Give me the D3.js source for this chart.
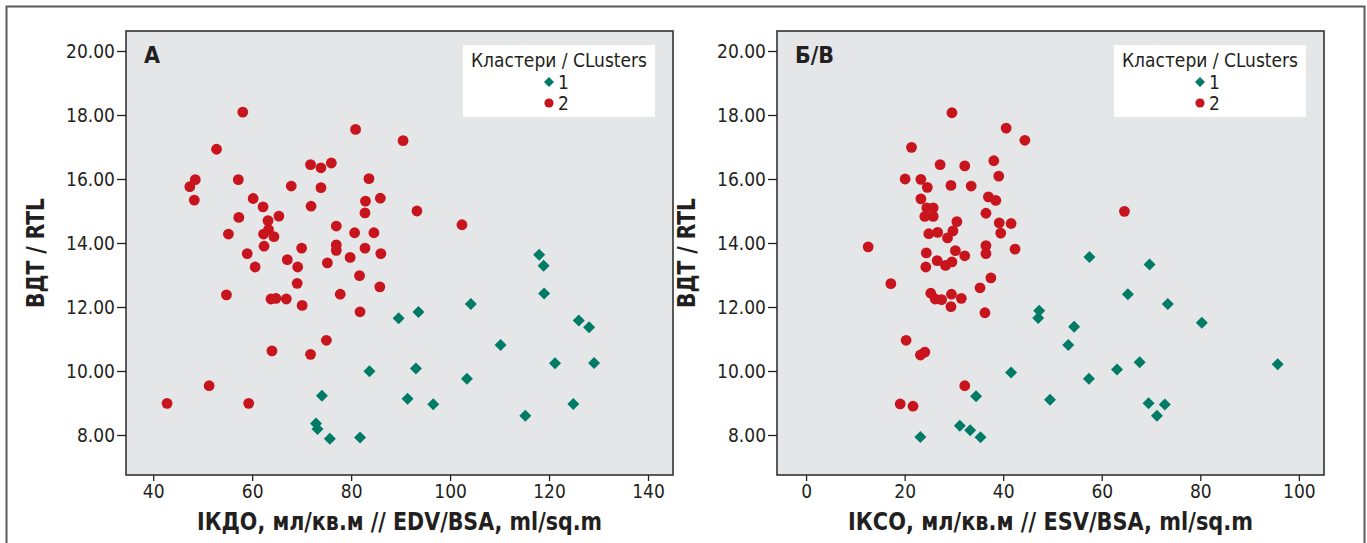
<!DOCTYPE html>
<html>
<head>
<meta charset="utf-8">
<script src="https://cdn.jsdelivr.net/npm/d3@7"></script>
<style>
  body { margin: 0; background: #fff; }
  svg { display: block; }
  .tick text { font-family: "Liberation Sans Narrow", "DejaVu Sans Condensed", sans-serif; font-size: 19px; fill: #231f20; }
  .tick line { stroke: #231f20; stroke-width: 1.3; }
</style>
</head>
<body>
<div id="chart"></div>
<script>
// Cluster 1 (diamonds) and cluster 2 (circles), [index, RTL]
const edvCluster1 = [
  [89.6, 11.65], [93.6, 11.84], [104.2, 12.09], [118.0, 13.63], [118.9, 13.29], [119.0, 12.42],
  [126.0, 11.58], [128.1, 11.37], [110.2, 10.81], [121.2, 10.24], [129.1, 10.25], [93.1, 10.08],
  [103.4, 9.76], [91.4, 9.13], [96.6, 8.96], [124.9, 8.97], [115.2, 8.60], [83.7, 9.99],
  [74.1, 9.23], [72.9, 8.36], [73.2, 8.19], [75.7, 7.88], [81.8, 7.92]
];
const edvCluster2 = [
  [58.1, 18.09], [80.9, 17.55], [90.5, 17.2], [52.8, 16.93], [71.8, 16.45], [73.9, 16.35],
  [76.0, 16.5], [48.5, 15.98], [47.4, 15.76], [48.3, 15.34], [57.2, 15.98], [67.9, 15.78],
  [73.9, 15.73], [83.6, 16.01], [60.2, 15.39], [62.2, 15.13], [71.9, 15.15], [82.9, 15.31],
  [85.9, 15.4], [82.8, 14.94], [57.3, 14.8], [63.2, 14.7], [65.4, 14.84], [55.2, 14.28],
  [62.3, 14.28], [63.3, 14.42], [64.4, 14.2], [77.0, 14.53], [80.7, 14.32], [84.6, 14.32],
  [62.4, 13.9], [70.0, 13.84], [77.0, 13.94], [77.0, 13.77], [82.8, 13.84], [86.0, 13.67],
  [79.8, 13.55], [59.0, 13.67], [67.1, 13.48], [69.2, 13.25], [75.2, 13.38], [60.6, 13.25],
  [81.7, 12.98], [69.1, 12.74], [85.8, 12.63], [54.8, 12.38], [63.8, 12.25], [64.8, 12.27],
  [66.9, 12.25], [70.1, 12.05], [77.8, 12.4], [81.8, 11.85], [75.0, 10.96], [64.0, 10.63],
  [71.8, 10.52], [51.3, 9.54], [42.8, 8.99], [59.3, 8.99], [102.4, 14.57], [93.3, 15.0]
];
const esvCluster1 = [
  [47.3, 11.88], [47.1, 11.66], [41.6, 9.95], [49.5, 9.1], [34.5, 9.21], [31.2, 8.29],
  [33.3, 8.15], [35.4, 7.93], [23.2, 7.94], [57.5, 13.56], [69.7, 13.33], [65.3, 12.4],
  [73.4, 12.09], [80.3, 11.51], [54.4, 11.38], [53.2, 10.81], [67.7, 10.27], [63.1, 10.05],
  [57.4, 9.76], [95.7, 10.21], [69.5, 8.99], [72.8, 8.95], [71.2, 8.6]
];
const esvCluster2 = [
  [29.6, 18.07], [40.6, 17.59], [44.4, 17.21], [21.4, 16.99], [27.2, 16.45], [32.2, 16.41],
  [38.1, 16.57], [39.1, 16.09], [20.1, 16.0], [23.3, 15.99], [24.6, 15.74], [29.4, 15.8],
  [33.5, 15.78], [37.0, 15.44], [38.5, 15.33], [23.3, 15.38], [24.5, 15.1], [25.8, 15.1],
  [24.1, 14.83], [25.8, 14.83], [36.5, 14.93], [30.6, 14.67], [39.2, 14.63], [41.6, 14.61],
  [29.8, 14.38], [39.5, 14.31], [24.9, 14.29], [26.7, 14.33], [28.7, 14.16], [12.6, 13.88],
  [36.5, 13.92], [36.5, 13.67], [42.4, 13.81], [24.4, 13.69], [30.3, 13.76], [32.2, 13.6],
  [26.6, 13.45], [29.6, 13.41], [28.3, 13.3], [24.3, 13.25], [37.5, 12.91], [17.2, 12.73],
  [35.3, 12.6], [25.3, 12.43], [29.5, 12.4], [31.5, 12.27], [26.2, 12.25], [27.5, 12.23],
  [29.4, 12.01], [36.3, 11.82], [20.3, 10.96], [23.2, 10.5], [24.1, 10.59], [32.2, 9.54],
  [19.1, 8.97], [21.7, 8.9], [64.6, 14.99]
];

const yTicks = [8, 10, 12, 14, 16, 18, 20];
const edvTicks = [40, 60, 80, 100, 120, 140];
const esvTicks = [0, 20, 40, 60, 80, 100];
const legendTitle = "Кластери / CLusters";
const clusterNames = ["1", "2"];

const panels = [
  { letter: "A", left: 126, xDomain: [34.5, 145.05], xTicks: edvTicks,
    xTitle: "ІКДО, мл/кв.м // EDV/BSA, ml/sq.m", c1: edvCluster1, c2: edvCluster2 },
  { letter: "Б/В", left: 777, xDomain: [-5.9, 105.1], xTicks: esvTicks,
    xTitle: "ІКСО, мл/кв.м // ESV/BSA, ml/sq.m", c1: esvCluster1, c2: esvCluster2 }
];

const W = 1367, H = 543;
const plotTop = 31, plotBottom = 475, plotW = 547;
const red = "#c8141c", green = "#007b66";
const narrow = '"Liberation Sans Narrow", "DejaVu Sans Condensed", sans-serif';

const svg = d3.select("#chart").append("svg")
  .attr("width", W).attr("height", H);

// outer frame
svg.append("rect")
  .attr("x", 6.5).attr("y", 6.5)
  .attr("width", 1358).attr("height", 560)
  .attr("fill", "#fff")
  .attr("stroke", "#5a5a5a").attr("stroke-width", 2);

const diamond = d3.symbol(d3.symbolSquare, 72)();
const diamondSmall = d3.symbol(d3.symbolSquare, 50)();

panels.forEach(function(p) {
  const g = svg.append("g");
  const x = d3.scaleLinear().domain(p.xDomain).range([p.left, p.left + plotW]);
  const y = d3.scaleLinear().domain([6.75, 20.625]).range([plotBottom, plotTop]);

  g.append("rect")
    .attr("x", p.left).attr("y", plotTop)
    .attr("width", plotW).attr("height", plotBottom - plotTop)
    .attr("fill", "#e5e6e8")
    .attr("stroke", "#333").attr("stroke-width", 1.6);

  // axes
  g.append("g")
    .attr("transform", `translate(${p.left}, 0)`)
    .call(d3.axisLeft(y).tickValues(yTicks).tickFormat(d3.format(".2f")).tickSize(9).tickPadding(2))
    .call(a => a.select(".domain").remove());

  g.append("g")
    .attr("transform", `translate(0, ${plotBottom})`)
    .call(d3.axisBottom(x).tickValues(p.xTicks).tickSize(6).tickPadding(4))
    .call(a => a.select(".domain").remove());

  // titles (the original face is condensed, so squeeze to its width)
  g.append("text")
    .attr("x", p.left + plotW / 2).attr("y", 530)
    .attr("text-anchor", "middle")
    .attr("font-family", narrow).attr("font-weight", "bold")
    .attr("font-size", 25).attr("fill", "#231f20")
    .attr("textLength", 405).attr("lengthAdjust", "spacingAndGlyphs")
    .text(p.xTitle);

  g.append("text")
    .attr("transform", `translate(${p.left - 82}, ${(plotTop + plotBottom) / 2}) rotate(-90)`)
    .attr("text-anchor", "middle")
    .attr("font-family", narrow).attr("font-weight", "bold")
    .attr("font-size", 24).attr("fill", "#231f20")
    .attr("textLength", 110).attr("lengthAdjust", "spacingAndGlyphs")
    .text("ВДТ / RTL");

  g.append("text")
    .attr("x", p.left + 18).attr("y", 63)
    .attr("font-family", narrow).attr("font-weight", "bold")
    .attr("font-size", 23).attr("fill", "#231f20")
    .text(p.letter);

  // points
  g.selectAll("circle.c2")
    .data(p.c2)
    .join("circle")
      .attr("class", "c2")
      .attr("cx", d => x(d[0]))
      .attr("cy", d => y(d[1]))
      .attr("r", 5.4)
      .attr("fill", red);

  g.selectAll("path.c1")
    .data(p.c1)
    .join("path")
      .attr("class", "c1")
      .attr("d", diamond)
      .attr("transform", d => `translate(${x(d[0])}, ${y(d[1])}) rotate(45)`)
      .attr("fill", green);

  // legend
  const lx = p.left + plotW - 18 - 192, ly = 45;
  const legend = g.append("g").attr("transform", `translate(${lx}, ${ly})`);
  legend.append("rect")
    .attr("width", 192).attr("height", 72)
    .attr("fill", "#fff");
  legend.append("text")
    .attr("x", 96).attr("y", 22)
    .attr("text-anchor", "middle")
    .attr("font-family", narrow).attr("font-size", 19).attr("fill", "#231f20")
    .text(legendTitle);

  clusterNames.forEach(function(name, i) {
    const cy = 37 + i * 21;
    if (i === 0) {
      legend.append("path")
        .attr("d", diamondSmall)
        .attr("transform", `translate(86, ${cy}) rotate(45)`)
        .attr("fill", green);
    } else {
      legend.append("circle")
        .attr("cx", 86).attr("cy", cy).attr("r", 4.6)
        .attr("fill", red);
    }
    legend.append("text")
      .attr("x", 95).attr("y", cy + 7)
      .attr("font-family", narrow).attr("font-size", 19).attr("fill", "#231f20")
      .text(name);
  });
});
</script>
</body>
</html>
